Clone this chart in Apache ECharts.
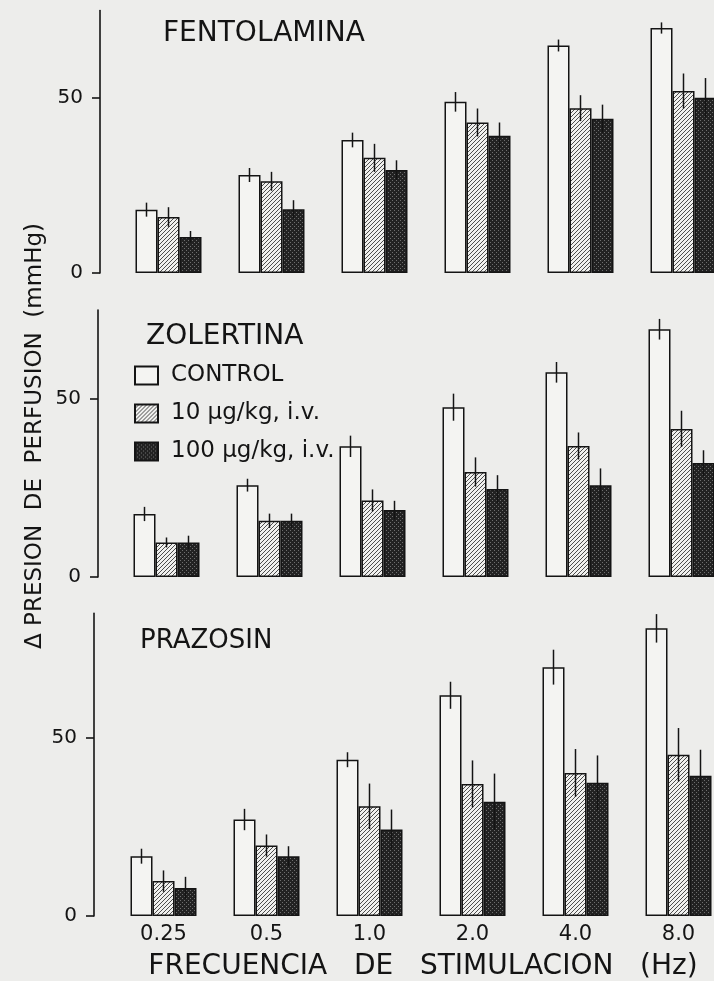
<!DOCTYPE html>
<html><head><meta charset="utf-8">
<script src="https://cdn.jsdelivr.net/npm/echarts@6/dist/echarts.min.js"></script>
<style>html,body{margin:0;padding:0;background:#ededeb}#c{width:714px;height:981px}</style>
</head><body><div id="c"></div>
<script>
const categories = ['0.25', '0.5', '1.0', '2.0', '4.0', '8.0'];
const panelTitles = ['FENTOLAMINA', 'ZOLERTINA', 'PRAZOSIN'];
const seriesNames = ['CONTROL', '10 μg/kg, i.v.', '100 μg/kg, i.v.'];
const yTickLabels = [0, 50];
const yMax = [75, 75, 85];

// Fentolamina
const fentControl = [18.1, 28.0, 38.0, 48.9, 65.0, 70.0];
const fentControlErr = [2.0, 2.0, 2.1, 2.8, 1.7, 1.6];
const fentLow = [16.0, 26.2, 32.9, 43.0, 47.1, 52.0];
const fentLowErr = [2.8, 2.7, 4.0, 4.0, 3.7, 5.0];
const fentHigh = [10.3, 18.2, 29.4, 39.2, 44.1, 50.1];
const fentHighErr = [1.7, 2.6, 2.8, 3.8, 4.0, 5.6];
// Zolertina
const zolControl = [17.7, 25.8, 36.7, 47.7, 57.5, 69.6];
const zolControlErr = [2.0, 1.8, 3.0, 3.8, 2.9, 2.9];
const zolLow = [9.7, 15.8, 21.5, 29.5, 36.8, 41.6];
const zolLowErr = [1.4, 2.0, 3.1, 4.1, 3.8, 5.1];
const zolHigh = [9.7, 15.8, 18.8, 24.7, 25.8, 32.0];
const zolHighErr = [1.9, 2.0, 2.6, 3.9, 4.7, 3.6];
// Prazosin
const praControl = [16.8, 27.1, 43.9, 62.0, 69.9, 80.8];
const praControlErr = [2.1, 3.0, 2.1, 3.8, 4.9, 4.0];
const praLow = [9.8, 19.8, 30.8, 37.1, 40.2, 45.3];
const praLowErr = [3.0, 3.1, 6.4, 6.6, 6.7, 7.5];
const praHigh = [7.9, 16.8, 24.3, 32.1, 37.4, 39.4];
const praHighErr = [3.1, 2.8, 5.6, 7.9, 7.7, 7.3];

const panels = [
  [[fentControl, fentControlErr], [fentLow, fentLowErr], [fentHigh, fentHighErr]],
  [[zolControl, zolControlErr], [zolLow, zolLowErr], [zolHigh, zolHighErr]],
  [[praControl, praControlErr], [praLow, praLowErr], [praHigh, praHighErr]]
];

const FONT = 'DejaVu Sans';
const INK = '#141414';
const BAR_W = 22;

function hatchPattern() {
  const c = document.createElement('canvas'); c.width = 4; c.height = 4;
  const g = c.getContext('2d');
  g.fillStyle = '#f0f0ee'; g.fillRect(0, 0, 4, 4);
  g.strokeStyle = '#3a3a3a'; g.lineWidth = 0.9;
  g.beginPath();
  g.moveTo(-1, 5); g.lineTo(5, -1);
  g.moveTo(3, 5); g.lineTo(5, 3);
  g.moveTo(-1, 1); g.lineTo(1, -1);
  g.stroke();
  return c;
}
function stipplePattern() {
  const c = document.createElement('canvas'); c.width = 4; c.height = 4;
  const g = c.getContext('2d');
  g.fillStyle = '#222222'; g.fillRect(0, 0, 4, 4);
  g.fillStyle = '#6e6e6e';
  g.fillRect(0, 0, 1, 1); g.fillRect(2, 2, 1, 1);
  return c;
}
const fills = [
  '#f4f4f2',
  { image: hatchPattern(), repeat: 'repeat' },
  { image: stipplePattern(), repeat: 'repeat' }
];

const GRID_W = 618;
const grids = [
  { left: 117, top: 10.5, width: GRID_W, height: 262.5, outerBoundsMode: 'none', containLabel: false },
  { left: 115, top: 310, width: GRID_W, height: 267, outerBoundsMode: 'none', containLabel: false },
  { left: 112, top: 613.4, width: GRID_W, height: 302.6, outerBoundsMode: 'none', containLabel: false }
];
const axisOffsets = [17, 17, 18];

const xAxes = [], yAxes = [], series = [];
panels.forEach((panel, p) => {
  xAxes.push({
    gridIndex: p, type: 'category', data: categories,
    axisLine: { show: false }, axisTick: { show: false },
    axisLabel: { show: p === 2, fontSize: 21, margin: 8, color: INK, fontFamily: FONT },
    splitLine: { show: false }
  });
  yAxes.push({
    gridIndex: p, type: 'value', min: 0, max: yMax[p], interval: 50, offset: axisOffsets[p],
    axisLine: { show: true, lineStyle: { color: INK, width: 1.6 } },
    axisTick: { show: true, length: 8, customValues: yTickLabels, lineStyle: { color: INK, width: 1.6 } },
    axisLabel: { customValues: yTickLabels, fontSize: 20, color: INK, fontFamily: FONT, margin: 17 },
    splitLine: { show: false }
  });
  panel.forEach((pair, k) => {
    series.push({
      type: 'bar', name: seriesNames[k], xAxisIndex: p, yAxisIndex: p,
      data: pair[0], barWidth: BAR_W, barGap: '0%',
      itemStyle: { color: fills[k], borderColor: INK, borderWidth: 1.5 },
      z: 2, silent: true
    });
  });
  panel.forEach((pair, k) => {
    series.push({
      type: 'custom', xAxisIndex: p, yAxisIndex: p, z: 5, silent: true,
      data: pair[0].map((v, i) => [i, v, pair[1][i]]),
      encode: { x: 0, y: 1 },
      renderItem: function (params, api) {
        const i = api.value(0), v = api.value(1), e = api.value(2);
        const top = api.coord([i, v + e]);
        const bot = api.coord([i, v - e]);
        const x = top[0] + (k - 1) * BAR_W;
        return {
          type: 'line',
          shape: { x1: x, y1: top[1], x2: x, y2: bot[1] },
          style: { stroke: INK, lineWidth: 1.5 }
        };
      }
    });
  });
});

const chart = echarts.init(document.getElementById('c'), null, { renderer: 'canvas' });
chart.setOption({
  backgroundColor: '#ededeb',
  animation: false,
  title: [
    { text: panelTitles[0], left: 163, top: 20, padding: 0, textStyle: { fontSize: 28, fontWeight: 'normal', color: INK, fontFamily: FONT } },
    { text: panelTitles[1], left: 146, top: 323, padding: 0, textStyle: { fontSize: 28, fontWeight: 'normal', color: INK, fontFamily: FONT } },
    { text: panelTitles[2], left: 140, top: 628, padding: 0, textStyle: { fontSize: 26, fontWeight: 'normal', color: INK, fontFamily: FONT } }
  ],
  legend: {
    data: seriesNames, orient: 'vertical', left: 134, top: 364, padding: 0,
    itemWidth: 23, itemHeight: 18, itemGap: 15, icon: 'rect', selectedMode: false,
    textStyle: { fontSize: 23, lineHeight: 20, color: INK, fontFamily: FONT, padding: [0, 0, 0, 8] }
  },
  grid: grids,
  xAxis: xAxes,
  yAxis: yAxes,
  series: series,
  graphic: [
    { type: 'text', x: 35, y: 436, rotation: Math.PI / 2,
      style: { text: 'Δ PRESION  DE  PERFUSION  (mmHg)', font: '23px "DejaVu Sans"', fill: INK, textAlign: 'center', textVerticalAlign: 'middle' } },
    { type: 'text', x: 423, y: 967,
      style: { text: 'FRECUENCIA   DE   STIMULACION   (Hz)', font: '28px "DejaVu Sans"', fill: INK, textAlign: 'center', textVerticalAlign: 'middle' } }
  ]
});
</script>
</body></html>
